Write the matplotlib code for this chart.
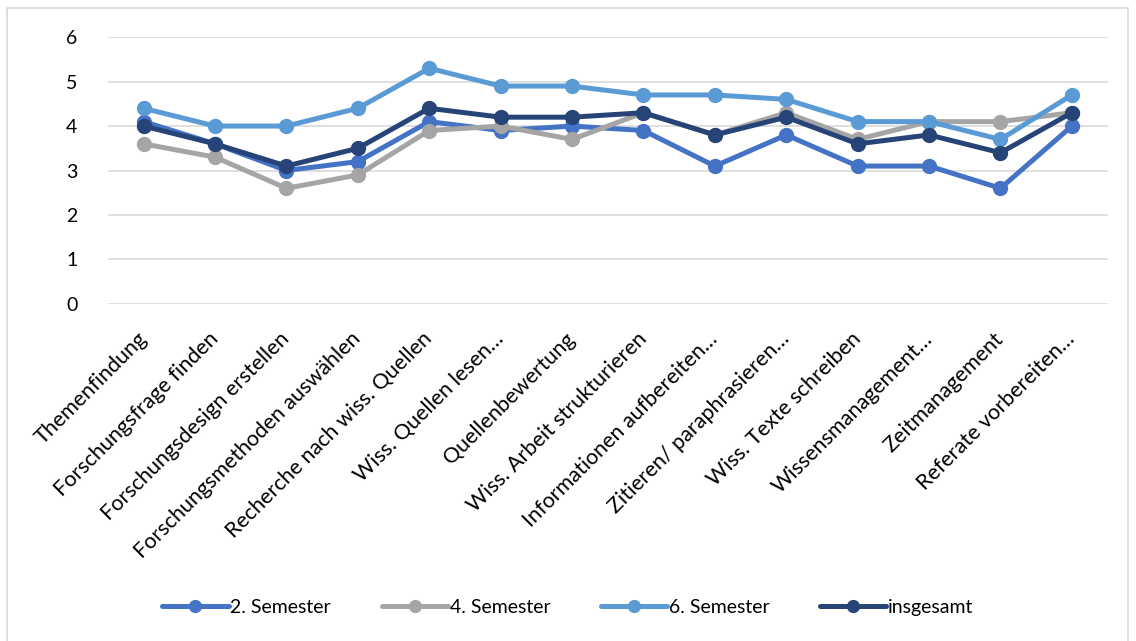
import matplotlib.pyplot as plt
from matplotlib.patches import Rectangle
from matplotlib.transforms import ScaledTranslation

# categories and mean ratings per group
categories = ['Themenfindung', 'Forschungsfrage finden', 'Forschungsdesign erstellen',
              'Forschungsmethoden auswählen', 'Recherche nach wiss. Quellen',
              'Wiss. Quellen lesen…', 'Quellenbewertung', 'Wiss. Arbeit strukturieren',
              'Informationen aufbereiten…', 'Zitieren/ paraphrasieren…',
              'Wiss. Texte schreiben', 'Wissensmanagement…', 'Zeitmanagement',
              'Referate vorbereiten…']
sem2 = [4.1, 3.6, 3.0, 3.2, 4.1, 3.9, 4.0, 3.9, 3.1, 3.8, 3.1, 3.1, 2.6, 4.0]
sem4 = [3.6, 3.3, 2.6, 2.9, 3.9, 4.0, 3.7, 4.3, 3.8, 4.3, 3.7, 4.1, 4.1, 4.3]
sem6 = [4.4, 4.0, 4.0, 4.4, 5.3, 4.9, 4.9, 4.7, 4.7, 4.6, 4.1, 4.1, 3.7, 4.7]
total = [4.0, 3.6, 3.1, 3.5, 4.4, 4.2, 4.2, 4.3, 3.8, 4.2, 3.6, 3.8, 3.4, 4.3]

series_names = ['2. Semester', '4. Semester', '6. Semester', 'insgesamt']
series_colors = ['#4472C4', '#A5A5A5', '#5B9BD5', '#264478']
y_ticks = [0, 1, 2, 3, 4, 5, 6]

plt.rcParams['font.family'] = ['Lato', 'DejaVu Sans']

fig = plt.figure(figsize=(11.36, 6.41), dpi=100)
ax = fig.add_axes([0.095, 0.526, 0.88, 0.416])

x = list(range(len(categories)))
for vals, name, col in zip([sem2, sem4, sem6, total], series_names, series_colors):
    ax.plot(x, vals, color=col, lw=3.6, marker='o', markersize=10, label=name,
            solid_capstyle='round')

ax.set_xlim(-0.5, len(categories) - 0.5)
ax.set_ylim(0, 6)
ax.set_yticks(y_ticks)
ax.set_yticklabels([str(t) for t in y_ticks], fontsize=14)
ax.set_xticks(x)
ax.set_xticklabels(categories, rotation=45, ha='right', va='center',
                   rotation_mode='anchor', fontsize=15.5)
# move the slanted labels a bit to the left, like in the original
shift = ScaledTranslation(-5 / 100, 0, fig.dpi_scale_trans)
for lab in ax.get_xticklabels():
    lab.set_transform(lab.get_transform() + shift)
ax.tick_params(length=0, pad=23)
ax.tick_params(axis='y', pad=22)
ax.grid(axis='y', color='#D9D9D9', lw=1.2)
ax.set_axisbelow(True)
for s in ax.spines.values():
    s.set_visible(False)

leg = ax.legend(loc='center', bbox_to_anchor=(0.5, 0.053), bbox_transform=fig.transFigure,
                ncol=4, frameon=False, fontsize=14, handlelength=3.4, markerscale=0.85,
                columnspacing=2.6, handletextpad=0.1)

fig.patches.append(Rectangle((0.006, -0.01), 0.987, 0.998, transform=fig.transFigure,
                             fill=False, edgecolor='#D9D9D9', lw=1.2))

fig.savefig('out.png', dpi=100)
